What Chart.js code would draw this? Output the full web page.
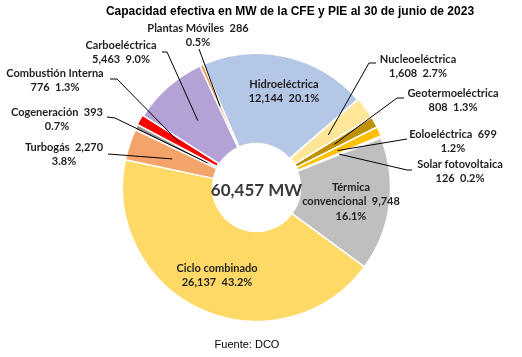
<!DOCTYPE html>
<html>
<head>
<meta charset="utf-8">
<script src="https://cdn.jsdelivr.net/npm/chart.js@4.4.0/dist/chart.umd.min.js"></script>
<style>
  html, body { margin: 0; padding: 0; background: #ffffff; }
  #wrap { position: relative; width: 522px; height: 357px; }
</style>
</head>
<body>
<div id="wrap"><canvas id="c" width="522" height="357"></canvas></div>
<script>
// ---- Data ----
const categories = [
  'Plantas Móviles', 'Hidroeléctrica', 'Nucleoeléctrica', 'Geotermoeléctrica',
  'Eoloeléctrica', 'Solar fotovoltaica', 'Térmica convencional', 'Ciclo combinado',
  'Turbogás', 'Cogeneración', 'Combustión Interna', 'Carboeléctrica'
];
const capacityMW = [286, 12144, 1608, 808, 699, 126, 9748, 26137, 2270, 393, 776, 5463];
const sharePct = ['0.5%', '20.1%', '2.7%', '1.3%', '1.2%', '0.2%', '16.1%', '43.2%', '3.8%', '0.7%', '1.3%', '9.0%'];
const totalLabel = '60,457 MW';
const titleText = 'Capacidad efectiva en MW de la CFE y PIE al 30 de junio de 2023';
const sourceText = 'Fuente: DCO';

// ---- Styles ----
const sliceColors = ['#EE9B57', '#B4C7E7', '#FFE699', '#BF9000', '#FFC000', '#FFC000',
  '#BFBFBF', '#FFD966', '#F4A46A', '#999999', '#FF0000', '#B4A1D5'];
const sliceOffsets = [0, 0, 2, 2, 2, 2, 0, 0, 0, 1, 2, 0];

// label layout: text lines form, text centre, leader path (from text side), leader radius fraction
const fmt = v => v.toLocaleString('en-US');
function lines(i, form) {
  const n = categories[i], v = fmt(capacityMW[i]), p = sharePct[i];
  if (form === 'nv/p') return [n + '  ' + v, p];
  if (form === 'n/vp') return [n, v + '  ' + p];
  if (form === 'term') return ['Térmica', 'convencional  ' + v, p];
  return [n, v, p];
}
const labelLayout = [
  { form: 'nv/p', x: 198, y: 28, lead: [[199, 49]], r: 0.5 },
  { form: 'n/vp', x: 284, y: 84 },
  { form: 'n/vp', x: 418, y: 59, lead: [[376, 63], [369, 63]], r: 0.5 },
  { form: 'n/vp', x: 453, y: 93, lead: [[404, 98], [397, 98]], r: 0.5 },
  { form: 'nv/p', x: 453, y: 134, lead: [[407, 139]], r: 0.5 },
  { form: 'n/vp', x: 460, y: 164, lead: [[412, 170], [407, 170]], r: 0.5 },
  { form: 'term', x: 351, y: 187 },
  { form: 'n/vp', x: 217, y: 268 },
  { form: 'nv/p', x: 64, y: 147, lead: [[108, 154]], r: 0.5 },
  { form: 'nv/p', x: 57, y: 112, lead: [[107, 117], [115, 118]], r: 0.12 },
  { form: 'n/vp', x: 55, y: 73, lead: [[110, 79], [117, 79]], r: 0.5 },
  { form: 'n/vp', x: 121, y: 45, lead: [[162, 52], [167, 52]], r: 0.5 }
];

const labelPlugin = {
  id: 'labels',
  afterDraw(chart) {
    const ctx = chart.ctx;
    const meta = chart.getDatasetMeta(0);
    ctx.save();
    // leaders
    ctx.strokeStyle = '#000000';
    ctx.lineWidth = 1;
    labelLayout.forEach((L, i) => {
      if (!L.lead) return;
      const arc = meta.data[i];
      const mid = (arc.startAngle + arc.endAngle) / 2;
      const rr = arc.innerRadius + (arc.outerRadius - arc.innerRadius) * L.r;
      const ex = arc.x + Math.cos(mid) * rr;
      const ey = arc.y + Math.sin(mid) * rr;
      ctx.beginPath();
      ctx.moveTo(L.lead[0][0], L.lead[0][1]);
      for (let k = 1; k < L.lead.length; k++) ctx.lineTo(L.lead[k][0], L.lead[k][1]);
      ctx.lineTo(ex, ey);
      ctx.stroke();
    });
    // labels
    ctx.fillStyle = '#1f1f1f';
    ctx.font = 'bold 11px Lato, "Open Sans", sans-serif';
    ctx.textAlign = 'center';
    ctx.textBaseline = 'middle';
    labelLayout.forEach((L, i) => {
      const ls = lines(i, L.form);
      ls.forEach((t, k) => ctx.fillText(t, L.x, L.y + k * 14.5));
    });
    // centre total
    const arc0 = meta.data[0];
    ctx.fillStyle = '#3a3a3a';
    ctx.font = 'bold 17px Lato, "Open Sans", sans-serif';
    ctx.fillText(totalLabel, arc0.x + 0, arc0.y + 3);
    // title
    ctx.fillStyle = '#000000';
    ctx.font = 'bold 12px "Liberation Sans", Arial, sans-serif';
    ctx.fillText(titleText, 290, 12);
    // source
    ctx.font = '11px "Liberation Sans", Arial, sans-serif';
    ctx.fillText(sourceText, 247, 345);
    ctx.restore();
  }
};

new Chart(document.getElementById('c'), {
  type: 'doughnut',
  data: {
    labels: categories,
    datasets: [{
      data: capacityMW,
      backgroundColor: sliceColors,
      borderColor: '#ffffff',
      borderWidth: 1.5,
      offset: sliceOffsets
    }]
  },
  options: {
    responsive: false,
    animation: false,
    rotation: -25,
    radius: 134,
    cutout: 55,
    layout: { padding: { left: 0, right: 9, top: 18, bottom: 0 } },
    plugins: { legend: { display: false }, title: { display: false }, tooltip: { enabled: false } }
  },
  plugins: [labelPlugin]
});
</script>
</body>
</html>
